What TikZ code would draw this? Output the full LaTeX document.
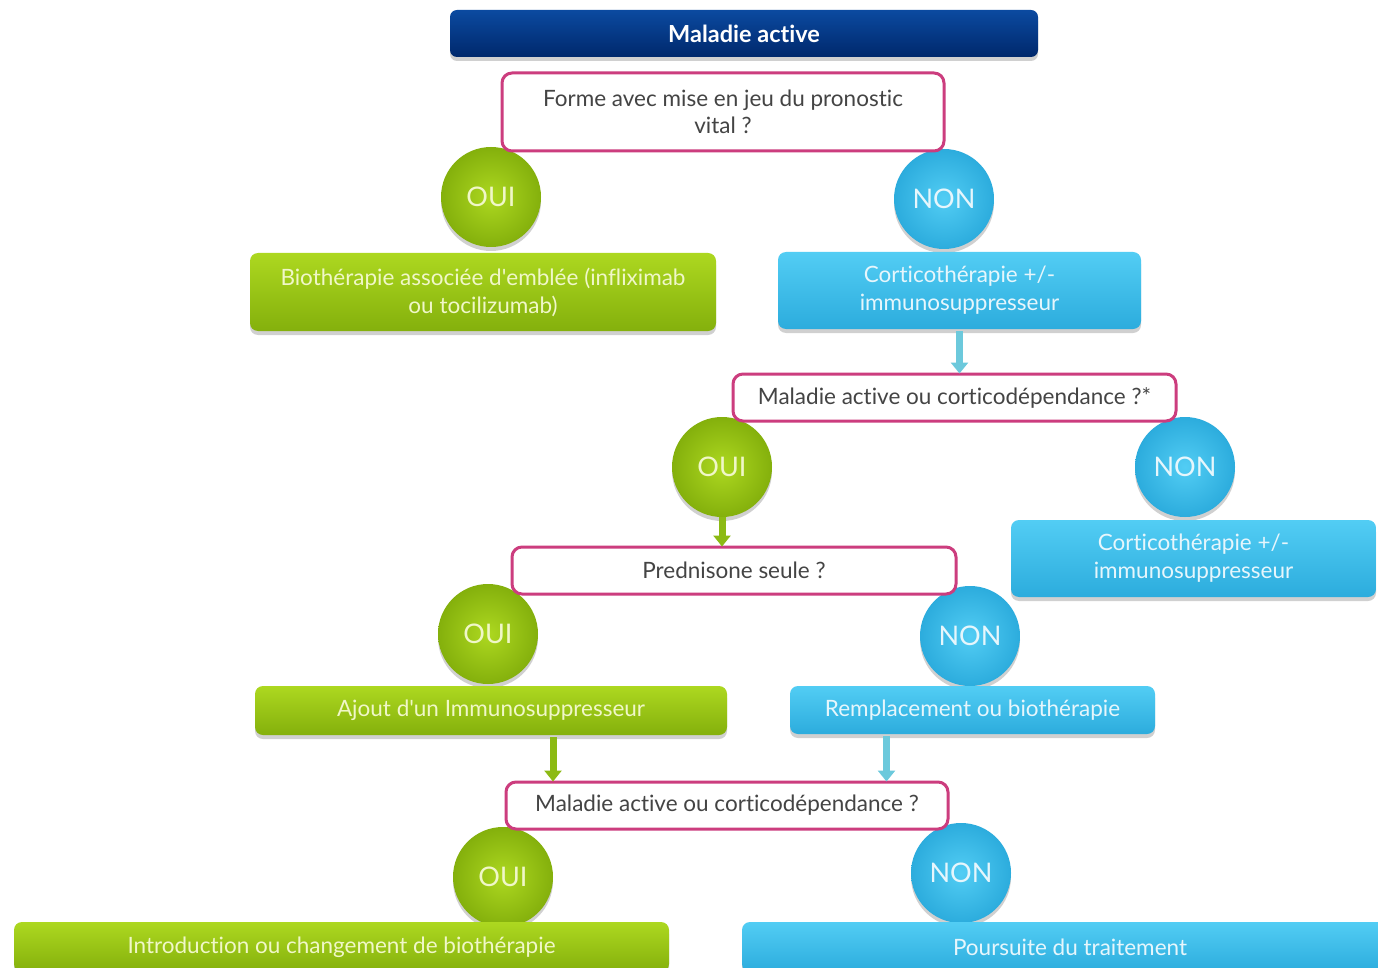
\documentclass[tikz,border=0pt]{standalone}
\usepackage{fontspec}
\setmainfont{Lato}[Ligatures={TeX,CommonOff}]
\usetikzlibrary{shadows,arrows.meta,shadings}
\definecolor{navyT}{HTML}{0B4AA0}
\definecolor{navyB}{HTML}{00286C}
\definecolor{grT}{HTML}{ADD820}
\definecolor{grB}{HTML}{84B00C}
\definecolor{blT}{HTML}{52CDF4}
\definecolor{blB}{HTML}{2CACDD}
\definecolor{magb}{HTML}{CC3D7E}
\definecolor{qtext}{HTML}{444444}
\definecolor{gtext}{HTML}{F0F7C8}
\definecolor{btext}{HTML}{E6F6FC}
\definecolor{arrB}{HTML}{6CC9DC}
\definecolor{arrG}{HTML}{8CBA14}
\tikzset{
  x=1pt,y=-1pt,
  shad/.style={drop shadow={shadow xshift=0pt,shadow yshift=-4pt,opacity=0.3,fill=black!60}},
  titlebox/.style={shad,rounded corners=7pt,top color=navyT,bottom color=navyB,draw=none,
    text=white,font=\fontsize{23.5}{26}\selectfont\bfseries,inner sep=0pt},
  qbox/.style={rounded corners=10pt,fill=white,draw=magb,line width=3pt,text=qtext,
    font=\fontsize{22.5}{27}\selectfont,align=center,inner sep=0pt},
  gbox/.style={shad,rounded corners=8pt,top color=grT,bottom color=grB,draw=none,text=gtext,
    font=\fontsize{22.5}{28}\selectfont,align=center,inner sep=0pt},
  bbox/.style={shad,rounded corners=8pt,top color=blT,bottom color=blB,draw=none,text=btext,
    font=\fontsize{22.5}{28}\selectfont,align=center,inner sep=0pt},
  gcirc/.style={shad,circle,minimum size=100pt,inner sep=0pt,inner color=grT,outer color=grB,
    text=gtext,font=\fontsize{27}{30}\selectfont},
  bcirc/.style={shad,circle,minimum size=100pt,inner sep=0pt,inner color=blT,outer color=blB,
    text=btext,font=\fontsize{27}{30}\selectfont},
  garrow/.style={draw=arrG,line width=7pt,-{Triangle[width=17pt,length=11pt]}},
  barrow/.style={draw=arrB,line width=7pt,-{Triangle[width=17pt,length=11pt]}},
}
\begin{document}
\begin{tikzpicture}
\useasboundingbox (0,0) rectangle (1378,968);
\clip (0,0) rectangle (1378,968);
\fill[white] (0,0) rectangle (1378,968);
% circles (behind boxes)
\node[gcirc] (oui1) at (491,197) {OUI};
\node[bcirc] (non1) at (944,199) {NON};
\node[gcirc] (oui2) at (722,467) {OUI};
\node[bcirc] (non2) at (1185,467) {NON};
\node[gcirc] (oui3) at (488,634) {OUI};
\node[bcirc] (non3) at (970,636) {NON};
\node[gcirc] (oui4) at (503,877) {OUI};
\node[bcirc] (non4) at (961,873) {NON};
% title
\node[titlebox,minimum width=588pt,minimum height=47pt] (title) at (744,33.5) {Maladie active};
% questions
\node[qbox,minimum width=442pt,minimum height=78pt] (q1) at (723,112) {Forme avec mise en jeu du pronostic\\vital ?};
\node[qbox,minimum width=443pt,minimum height=47pt] (q2) at (954.5,397.5) {Maladie active ou corticodépendance ?*};
\node[qbox,minimum width=444pt,minimum height=47pt] (q3) at (734,570.5) {Prednisone seule ?};
\node[qbox,minimum width=442pt,minimum height=47pt] (q4) at (727,805.5) {Maladie active ou corticodépendance ?};
% boxes
\node[gbox,minimum width=466pt,minimum height=78pt] (g1) at (483,292) {Biothérapie associée d\textquotesingle emblée (infliximab\\ou tocilizumab)};
\node[bbox,minimum width=363pt,minimum height=77pt] (b1) at (959.5,290.5) {Corticothérapie +/-\\immunosuppresseur};
\node[bbox,minimum width=365pt,minimum height=77pt] (b2) at (1193.5,558.5) {Corticothérapie +/-\\immunosuppresseur};
\node[gbox,minimum width=472pt,minimum height=49pt] (g3) at (491,710.5) {Ajout d\textquotesingle un Immunosuppresseur};
\node[bbox,minimum width=365pt,minimum height=48pt] (b3) at (972.5,710) {Remplacement ou biothérapie};
\node[gbox,minimum width=655pt,minimum height=50pt] (g4) at (341.5,947) {Introduction ou changement de biothérapie};
\node[bbox,minimum width=656pt,minimum height=50pt] (b4) at (1070,947) {Poursuite du traitement};
% arrows
\draw[barrow] ([yshift=-2pt]b1.south) -- ([yshift=-1pt]b1.south |- q2.north);
\draw[garrow] (oui2.south) -- ([yshift=-1pt]oui2.south |- q3.north);
\draw[garrow] ([xshift=62pt,yshift=-2pt]g3.south) -- ([xshift=62pt,yshift=-1pt]g3.south |- q4.north);
\draw[barrow] ([xshift=-86pt,yshift=-2pt]b3.south) -- ([xshift=-86pt,yshift=-1pt]b3.south |- q4.north);
\end{tikzpicture}
\end{document}
